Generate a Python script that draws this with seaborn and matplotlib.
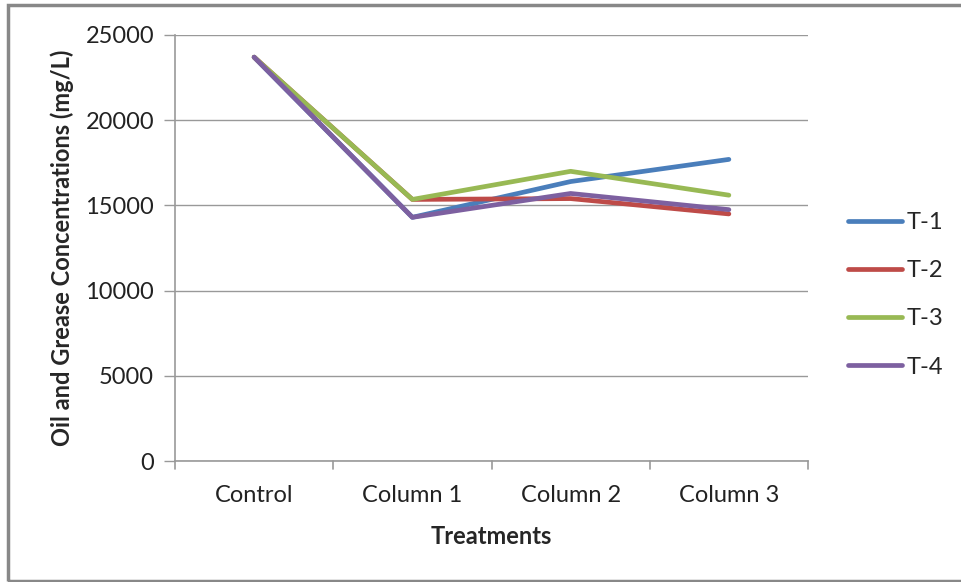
import matplotlib
matplotlib.use("Agg")
import matplotlib.pyplot as plt
import seaborn as sns
import pandas as pd
from matplotlib.patches import Rectangle

categories = ["Control", "Column 1", "Column 2", "Column 3"]
t1 = [23700, 14300, 16400, 17700]
t2 = [23700, 15350, 15400, 14500]
t3 = [23700, 15350, 17000, 15600]
t4 = [23700, 14300, 15700, 14750]
series_names = ["T-1", "T-2", "T-3", "T-4"]
colors = ["#4A7EBB", "#BE4B48", "#98B954", "#7D60A0"]

rows = []
for name, vals in zip(series_names, [t1, t2, t3, t4]):
    for i, v in enumerate(vals):
        rows.append({"pos": i, "Treatment": categories[i], "series": name, "value": v})
df = pd.DataFrame(rows)

sns.set_style("white")
plt.rcParams["font.family"] = ["Lato", "DejaVu Sans"]

FS = 17
fig = plt.figure(figsize=(9.61, 5.82), dpi=100)
ax = fig.add_axes([175 / 961, 1 - 461 / 582, (808 - 175) / 961, (461 - 35) / 582])

sns.lineplot(data=df, x="pos", y="value", hue="series", palette=colors,
             linewidth=3.4, ax=ax, legend=True, sort=False)
for line in ax.lines:
    line.set_solid_capstyle("round")

ax.set_xlim(-0.5, 3.5)
ax.set_ylim(0, 25000)
ax.set_yticks(range(0, 25001, 5000))
ax.set_yticklabels([str(v) for v in range(0, 25001, 5000)], fontsize=FS, color="#222222")
ax.set_xticks([0, 1, 2, 3])
ax.set_xticklabels(categories, fontsize=FS, color="#222222")
ax.tick_params(axis="x", length=0, pad=17)
ax.tick_params(axis="y", length=8, width=1, color="#999999", pad=7, direction="out", left=True)

# category boundary ticks below the x axis
for b in [-0.5, 0.5, 1.5, 2.5, 3.5]:
    ax.plot([b, b], [0, -0.019], transform=ax.get_xaxis_transform(), color="#999999",
            lw=1.2, clip_on=False)

ax.grid(axis="y", color="#999999", lw=1)
ax.set_axisbelow(True)
for s in ["top", "right"]:
    ax.spines[s].set_visible(False)
ax.spines["left"].set_color("#999999")
ax.spines["bottom"].set_color("#999999")
ax.spines["left"].set_linewidth(1.2)
ax.spines["bottom"].set_linewidth(1.2)

ax.set_xlabel("Treatments", fontsize=FS, fontweight="bold", labelpad=14)
ax.set_ylabel("Oil and Grease Concentrations (mg/L)", fontsize=FS, fontweight="bold", labelpad=8)

leg = ax.legend(loc="center left", bbox_to_anchor=(1.063, 0.39), frameon=False,
                fontsize=FS, handlelength=2.3, handletextpad=0.17, labelspacing=1.15,
                borderpad=0, borderaxespad=0)
for h in leg.get_lines():
    h.set_linewidth(3.4)

fig.patches.append(Rectangle((8 / 961, 1 / 582), 1, 1 - 6 / 582, transform=fig.transFigure,
                             fill=False, edgecolor="#888888", lw=2.5))

fig.savefig("out.png", dpi=100)
